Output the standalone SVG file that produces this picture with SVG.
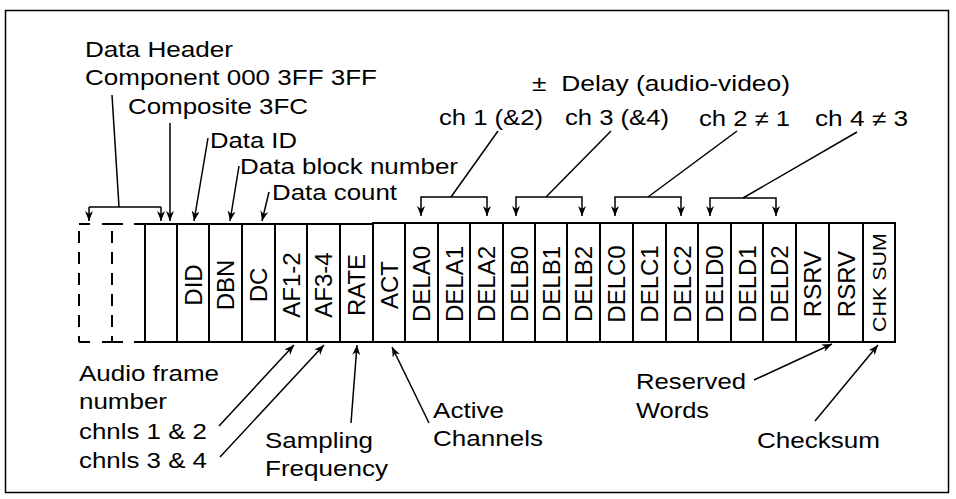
<svg xmlns="http://www.w3.org/2000/svg" width="956" height="499" viewBox="0 0 956 499">
<style>
.lbl{font-family:"Liberation Sans",Arial,sans-serif;font-size:22px;fill:#000}
.box{fill:#fff;stroke:#000;stroke-width:2}
.bt{font-family:"Liberation Sans",Arial,sans-serif;font-size:24px;fill:#000;text-anchor:middle}
.con{fill:none;stroke:#000;stroke-width:1.5}
.dash{fill:none;stroke:#000;stroke-width:2}
</style>
<defs>
<marker id="ah" markerUnits="userSpaceOnUse" markerWidth="11" markerHeight="9" refX="10" refY="4" orient="auto">
<path d="M0,0 L10,4 L0,8 L3,4 Z" fill="#000"/>
</marker>
</defs>
<rect x="5.5" y="10.5" width="943" height="482" fill="#fff" stroke="#000" stroke-width="1.5"/>

<g id="dashed-words">
<path class="dash" d="M79,224 H90 M102,224 H123 M134,224 H145 M79,342 H90 M102,342 H123 M134,342 H145"/>
<path class="dash" d="M79,231 V342 M112,231 V342" stroke-dasharray="12 9"/>
</g>

<g id="words">
<g id="w0"><rect class="box" x="145" y="224" width="32" height="118"/></g>
<g id="w1"><rect class="box" x="177" y="224" width="32" height="118"/><text class="bt" transform="translate(201.5 285) rotate(-90)">DID</text></g>
<g id="w2"><rect class="box" x="209" y="224" width="33" height="118"/><text class="bt" transform="translate(234 285) rotate(-90)">DBN</text></g>
<g id="w3"><rect class="box" x="242" y="224" width="33" height="118"/><text class="bt" transform="translate(267 285) rotate(-90)">DC</text></g>
<g id="w4"><rect class="box" x="275" y="224" width="32" height="118"/><text class="bt" transform="translate(299.5 285) rotate(-90)">AF1-2</text></g>
<g id="w5"><rect class="box" x="307" y="224" width="33" height="118"/><text class="bt" transform="translate(332 285) rotate(-90)">AF3-4</text></g>
<g id="w6"><rect class="box" x="340" y="224" width="33" height="118"/><text class="bt" transform="translate(365 285) rotate(-90)">RATE</text></g>
<g id="w7"><rect class="box" x="373" y="223" width="32" height="119"/><text class="bt" transform="translate(397.5 285) rotate(-90)">ACT</text></g>
<g id="w8"><rect class="box" x="405" y="223" width="33" height="119"/><text class="bt" transform="translate(430 284) rotate(-90)">DELA0</text></g>
<g id="w9"><rect class="box" x="438" y="223" width="32" height="119"/><text class="bt" transform="translate(462.5 284) rotate(-90)">DELA1</text></g>
<g id="w10"><rect class="box" x="470" y="223" width="33" height="119"/><text class="bt" transform="translate(495 284) rotate(-90)">DELA2</text></g>
<g id="w11"><rect class="box" x="503" y="223" width="32" height="119"/><text class="bt" transform="translate(527.5 284) rotate(-90)">DELB0</text></g>
<g id="w12"><rect class="box" x="535" y="223" width="32" height="119"/><text class="bt" transform="translate(559.5 284) rotate(-90)">DELB1</text></g>
<g id="w13"><rect class="box" x="567" y="223" width="33" height="119"/><text class="bt" transform="translate(592 284) rotate(-90)">DELB2</text></g>
<g id="w14"><rect class="box" x="600" y="223" width="33" height="119"/><text class="bt" transform="translate(625 284) rotate(-90)">DELC0</text></g>
<g id="w15"><rect class="box" x="633" y="223" width="33" height="119"/><text class="bt" transform="translate(658 284) rotate(-90)">DELC1</text></g>
<g id="w16"><rect class="box" x="666" y="223" width="32" height="119"/><text class="bt" transform="translate(690.5 284) rotate(-90)">DELC2</text></g>
<g id="w17"><rect class="box" x="698" y="223" width="33" height="119"/><text class="bt" transform="translate(723 284) rotate(-90)">DELD0</text></g>
<g id="w18"><rect class="box" x="731" y="223" width="32" height="119"/><text class="bt" transform="translate(755.5 284) rotate(-90)">DELD1</text></g>
<g id="w19"><rect class="box" x="763" y="223" width="33" height="119"/><text class="bt" transform="translate(788 284) rotate(-90)">DELD2</text></g>
<g id="w20"><rect class="box" x="796" y="223" width="33" height="119"/><text class="bt" transform="translate(821 284) rotate(-90)">RSRV</text></g>
<g id="w21"><rect class="box" x="829" y="223" width="34" height="119"/><text class="bt" transform="translate(854.5 284) rotate(-90)">RSRV</text></g>
<g id="w22"><rect class="box" x="863" y="223" width="32" height="119"/><text class="bt" style="font-size:19px" transform="translate(885.5 282.5) rotate(-90)" textLength="99" lengthAdjust="spacingAndGlyphs">CHK SUM</text></g>
</g>

<g id="labels">
<text class="lbl" x="85" y="57" textLength="148" lengthAdjust="spacingAndGlyphs">Data Header</text>
<text class="lbl" x="85" y="85" textLength="292" lengthAdjust="spacingAndGlyphs">Component 000 3FF 3FF</text>
<text class="lbl" x="128" y="114" textLength="180" lengthAdjust="spacingAndGlyphs">Composite 3FC</text>
<text class="lbl" x="210" y="148" textLength="87" lengthAdjust="spacingAndGlyphs">Data ID</text>
<text class="lbl" x="240" y="174" textLength="218" lengthAdjust="spacingAndGlyphs">Data block number</text>
<text class="lbl" x="272" y="200" textLength="125" lengthAdjust="spacingAndGlyphs">Data count</text>
<text class="lbl" x="532" y="91" style="white-space:pre" textLength="258" lengthAdjust="spacingAndGlyphs">±  Delay (audio-video)</text>
<text class="lbl" x="439" y="125" textLength="104" lengthAdjust="spacingAndGlyphs">ch 1 (&amp;2)</text>
<text class="lbl" x="565" y="125" textLength="104" lengthAdjust="spacingAndGlyphs">ch 3 (&amp;4)</text>
<text class="lbl" x="699" y="126" textLength="91" lengthAdjust="spacingAndGlyphs">ch 2 ≠ 1</text>
<text class="lbl" x="815" y="126" textLength="93" lengthAdjust="spacingAndGlyphs">ch 4 ≠ 3</text>
<text class="lbl" x="79" y="381" textLength="140" lengthAdjust="spacingAndGlyphs">Audio frame</text>
<text class="lbl" x="79" y="409" textLength="88" lengthAdjust="spacingAndGlyphs">number</text>
<text class="lbl" x="79" y="439" textLength="128" lengthAdjust="spacingAndGlyphs">chnls 1 &amp; 2</text>
<text class="lbl" x="79" y="468" textLength="128" lengthAdjust="spacingAndGlyphs">chnls 3 &amp; 4</text>
<text class="lbl" x="265" y="448" textLength="108" lengthAdjust="spacingAndGlyphs">Sampling</text>
<text class="lbl" x="265" y="476" textLength="123" lengthAdjust="spacingAndGlyphs">Frequency</text>
<text class="lbl" x="433" y="418" textLength="71" lengthAdjust="spacingAndGlyphs">Active</text>
<text class="lbl" x="433" y="446" textLength="110" lengthAdjust="spacingAndGlyphs">Channels</text>
<text class="lbl" x="636" y="389" textLength="110" lengthAdjust="spacingAndGlyphs">Reserved</text>
<text class="lbl" x="636" y="418" textLength="73" lengthAdjust="spacingAndGlyphs">Words</text>
<text class="lbl" x="757" y="448" textLength="123" lengthAdjust="spacingAndGlyphs">Checksum</text>
</g>

<g id="connectors">
<path class="con" d="M112,95 L119,207"/>
<path class="con" d="M89,207 H161"/>
<path class="con" d="M89,207 V221" marker-end="url(#ah)"/>
<path class="con" d="M161,207 V221" marker-end="url(#ah)"/>
<path class="con" d="M170,123 V221" marker-end="url(#ah)"/>
<path class="con" d="M208,138 L194,221" marker-end="url(#ah)"/>
<path class="con" d="M239,166 L230,221" marker-end="url(#ah)"/>
<path class="con" d="M269,192 L262,221" marker-end="url(#ah)"/>

<path class="con" d="M498,131 L451,197"/>
<path class="con" d="M421,205 V197 H487 V205"/>
<path class="con" d="M421,205 V216" marker-end="url(#ah)"/>
<path class="con" d="M487,205 V216" marker-end="url(#ah)"/>

<path class="con" d="M611,131 L546,197"/>
<path class="con" d="M516,205 V197 H582 V205"/>
<path class="con" d="M516,205 V216" marker-end="url(#ah)"/>
<path class="con" d="M582,205 V216" marker-end="url(#ah)"/>

<path class="con" d="M737,131 L648,197"/>
<path class="con" d="M615,205 V197 H681 V205"/>
<path class="con" d="M615,205 V216" marker-end="url(#ah)"/>
<path class="con" d="M681,205 V216" marker-end="url(#ah)"/>

<path class="con" d="M857,132 L743,198"/>
<path class="con" d="M710,205 V198 H776 V205"/>
<path class="con" d="M710,205 V216" marker-end="url(#ah)"/>
<path class="con" d="M776,205 V216" marker-end="url(#ah)"/>

<path class="con" d="M219,426 L294,345" marker-end="url(#ah)"/>
<path class="con" d="M220,457 L324,345" marker-end="url(#ah)"/>
<path class="con" d="M351,423 L357,345" marker-end="url(#ah)"/>
<path class="con" d="M429,423 L392,347" marker-end="url(#ah)"/>
<path class="con" d="M754,380 L832,344" marker-end="url(#ah)"/>
<path class="con" d="M815,421 L878,345" marker-end="url(#ah)"/>
</g>
</svg>
